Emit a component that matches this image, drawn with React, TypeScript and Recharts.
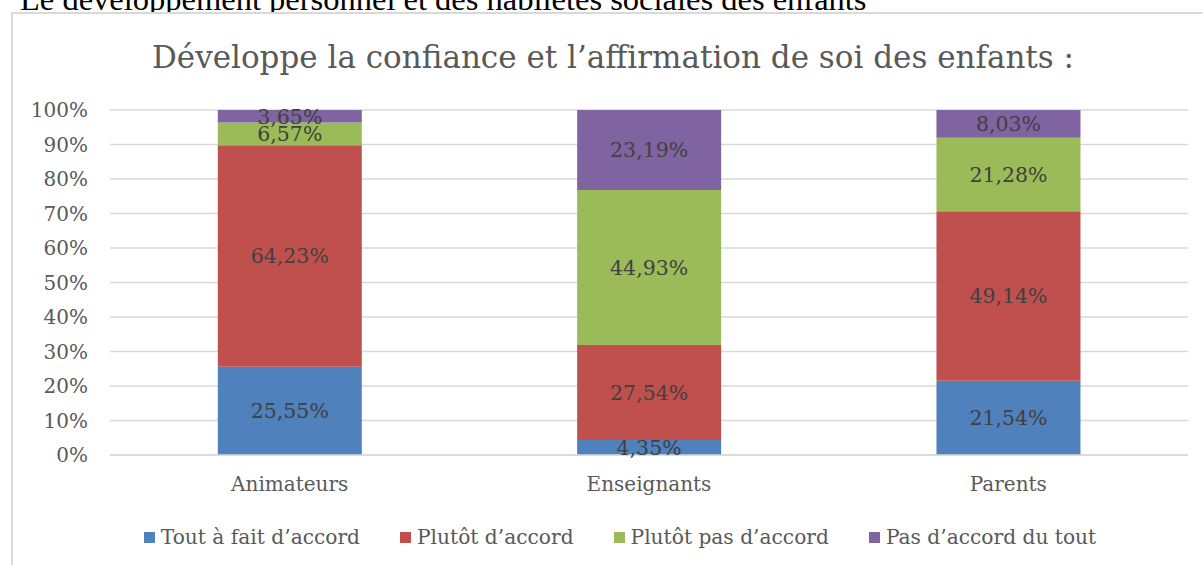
import React from "react";
import { BarChart, Bar, XAxis, YAxis, CartesianGrid, LabelList } from "recharts";

const categories = ["Animateurs", "Enseignants", "Parents"];
const toutAFait = [25.55, 4.35, 21.54];
const plutot = [64.23, 27.54, 49.14];
const plutotPas = [6.57, 44.93, 21.28];
const pasDuTout = [3.65, 23.19, 8.03];
const yTicks = [0, 10, 20, 30, 40, 50, 60, 70, 80, 90, 100];

const series = [
  { key: "a", name: "Tout à fait d’accord", color: "#4f81bd", values: toutAFait },
  { key: "b", name: "Plutôt d’accord", color: "#c0504d", values: plutot },
  { key: "c", name: "Plutôt pas d’accord", color: "#9bbb59", values: plutotPas },
  { key: "d", name: "Pas d’accord du tout", color: "#8064a2", values: pasDuTout },
];

const data = categories.map((cat, i) => {
  const row: Record<string, string | number> = { cat };
  series.forEach((s) => (row[s.key] = s.values[i]));
  return row;
});

const FONT = "'DejaVu Serif', serif";
const fmt = (v: any) => Number(v).toFixed(2).replace(".", ",") + "%";

export default function App() {
  return (
    <div
      style={{
        position: "absolute",
        left: 0,
        top: 0,
        width: 1203,
        height: 565,
        overflow: "hidden",
        background: "#fff",
      }}
    >
      {/* heading of the document, cut off by the page */}
      <div
        style={{
          position: "absolute",
          left: 20,
          top: -17,
          fontFamily: "'Liberation Serif', serif",
          fontSize: 32.5,
          lineHeight: "32px",
          whiteSpace: "nowrap",
          color: "#000",
        }}
      >
        Le développement personnel et des habiletés sociales des enfants
      </div>
      <div
        style={{
          position: "absolute",
          left: 11,
          top: 12,
          width: 1250,
          height: 600,
          border: "2px solid #d9d9d9",
          boxSizing: "border-box",
          background: "#fff",
        }}
      />
      <div
        style={{
          position: "absolute",
          left: 0,
          top: 37,
          width: 1226,
          textAlign: "center",
          fontFamily: FONT,
          fontSize: 31,
          lineHeight: "40px",
          color: "#595959",
          whiteSpace: "nowrap",
        }}
      >
        Développe la confiance et l’affirmation de soi des enfants :
      </div>
      <div style={{ position: "absolute", left: 0, top: 0 }}>
        <BarChart
          width={1203}
          height={565}
          data={data}
          margin={{ top: 110, right: 15, bottom: 80, left: 0 }}
          barCategoryGap="30%"
        >
          <CartesianGrid vertical={false} stroke="#d9d9d9" strokeWidth={1.5} />
          <XAxis
            dataKey="cat"
            height={30}
            axisLine={{ stroke: "#d9d9d9", strokeWidth: 1.5 }}
            tickLine={false}
            tickSize={0}
            tickMargin={22}
            tick={{ fill: "#595959", fontSize: 20, fontFamily: FONT }}
          />
          <YAxis
            width={110}
            domain={[0, 100]}
            ticks={yTicks}
            allowDataOverflow
            axisLine={false}
            tickLine={false}
            tickSize={0}
            tickMargin={22}
            tickFormatter={(v: number) => `${v}%`}
            tick={{ fill: "#595959", fontSize: 20, fontFamily: FONT }}
          />
          {series.map((s) => (
            <Bar
              key={s.key}
              dataKey={s.key}
              name={s.name}
              stackId="s"
              fill={s.color}
              isAnimationActive={false}
            >
              <LabelList
                dataKey={s.key}
                position="center"
                formatter={fmt}
                fill="#404040"
                fontSize={20.5}
                fontFamily={FONT}
              />
            </Bar>
          ))}
        </BarChart>
      </div>
      <div
        style={{
          position: "absolute",
          left: 0,
          top: 523,
          width: 1240,
          display: "flex",
          justifyContent: "center",
          fontFamily: FONT,
          fontSize: 20.2,
          lineHeight: "28px",
          color: "#595959",
          whiteSpace: "nowrap",
        }}
      >
        {series.map((s) => (
          <div
            key={s.key}
            style={{ display: "flex", alignItems: "center", margin: "0 20px" }}
          >
            <span
              style={{
                width: 11,
                height: 11,
                background: s.color,
                display: "inline-block",
                marginRight: 6,
              }}
            />
            {s.name}
          </div>
        ))}
      </div>
    </div>
  );
}
